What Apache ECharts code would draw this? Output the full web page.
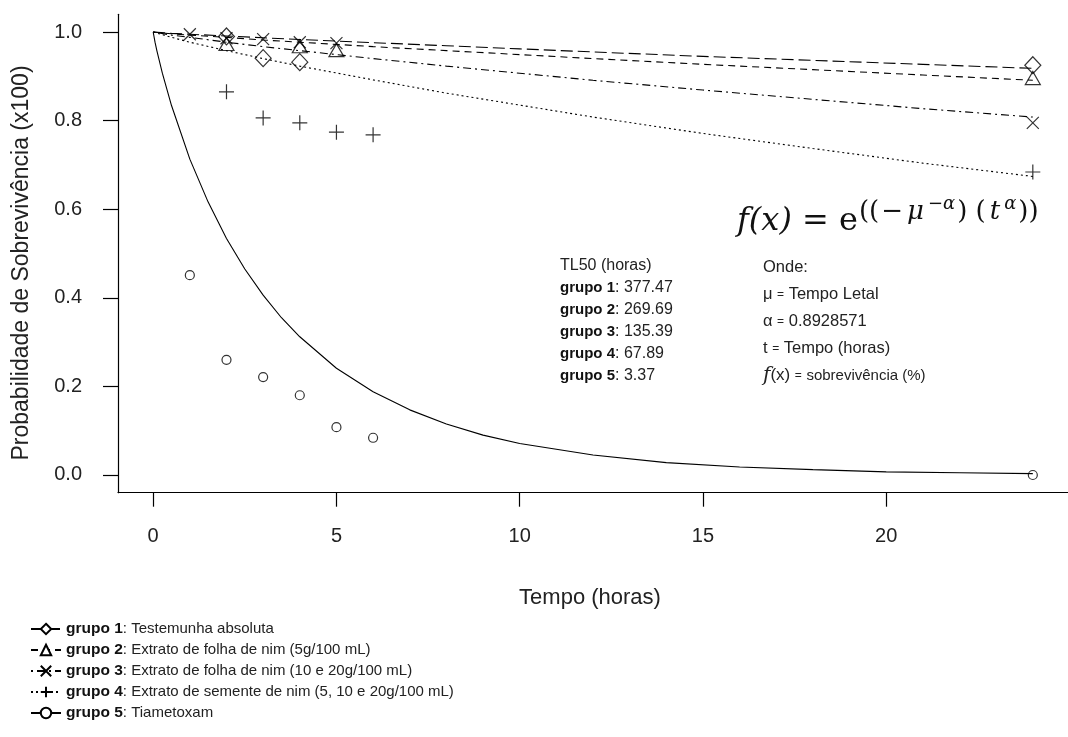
<!DOCTYPE html>
<html><head><meta charset="utf-8">
<script src="https://cdn.jsdelivr.net/npm/echarts@6/dist/echarts.min.js"></script>
<style>html,body{margin:0;padding:0;background:#fff}#c{width:1068px;height:737px}</style>
</head><body><div id="c"></div>
<script>
// ---- data ----
const groupNames = ['grupo 1', 'grupo 2', 'grupo 3', 'grupo 4', 'grupo 5'];
const groupDesc = ['Testemunha absoluta', 'Extrato de folha de nim (5g/100 mL)', 'Extrato de folha de nim (10 e 20g/100 mL)', 'Extrato de semente de nim (5, 10 e 20g/100 mL)', 'Tiametoxam'];
const tl50 = ['377.47', '269.69', '135.39', '67.89', '3.37'];
const xTicks = [0, 5, 10, 15, 20];
const yTicks = [0, 0.2, 0.4, 0.6, 0.8, 1.0];

// observed points
const obs1T = [2, 3, 4, 24];
const obs1V = [0.990, 0.941, 0.932, 0.925];
const obs2T = [2, 4, 5, 24];
const obs2V = [0.973, 0.968, 0.959, 0.896];
const obs3T = [1, 2, 3, 4, 5, 24];
const obs3V = [0.995, 0.986, 0.984, 0.977, 0.975, 0.795];
const obs4T = [2, 3, 4, 5, 6, 24];
const obs4V = [0.865, 0.806, 0.795, 0.774, 0.768, 0.684];
const obs5T = [1, 2, 3, 4, 5, 6, 24];
const obs5V = [0.451, 0.260, 0.221, 0.180, 0.108, 0.084, 0.0];

// fitted curves
const fitT = [0, 0.5, 1, 2, 3, 4, 6, 8, 10, 12, 15, 18, 21, 24];
const fit1 = [1, 0.997, 0.995, 0.991, 0.987, 0.983, 0.976, 0.969, 0.962, 0.955, 0.945, 0.936, 0.927, 0.918];
const fit2 = [1, 0.996, 0.993, 0.988, 0.982, 0.977, 0.967, 0.958, 0.949, 0.940, 0.927, 0.915, 0.903, 0.891];
const fit3 = [1, 0.993, 0.988, 0.977, 0.967, 0.958, 0.940, 0.923, 0.907, 0.891, 0.869, 0.848, 0.827, 0.808];
const fit4 = [1, 0.988, 0.977, 0.958, 0.940, 0.923, 0.892, 0.862, 0.835, 0.808, 0.771, 0.737, 0.704, 0.674];
const fit5T = [0, 0.05, 0.1, 0.25, 0.5, 1, 1.5, 2, 2.5, 3, 3.5, 4, 5, 6, 7, 8, 9, 10, 12, 14, 16, 18, 20, 22, 24];
const fit5 = [1, 0.977, 0.958, 0.907, 0.834, 0.713, 0.616, 0.534, 0.465, 0.406, 0.355, 0.312, 0.241, 0.188, 0.147, 0.115, 0.090, 0.071, 0.045, 0.028, 0.018, 0.012, 0.007, 0.005, 0.003];

// ---- chart ----
const zip = (a, b) => a.map((v, i) => [v, b[i]]);
const PLUS = 'path://M0,-10L0,10M-10,0L10,0';
const CROSS = 'path://M-10,-10L10,10M-10,10L10,-10';
const symbols = ['diamond', 'triangle', CROSS, PLUS, 'circle'];
const symSizes = [[16, 17], [15, 13], 12, 15, 9];
const dashes = [[12, 5], [7, 5], [2, 4, 8, 4], [2, 3], 'solid'];
const fits = [[fitT, fit1], [fitT, fit2], [fitT, fit3], [fitT, fit4], [fit5T, fit5]];
const obs = [[obs1T, obs1V], [obs2T, obs2V], [obs3T, obs3V], [obs4T, obs4V], [obs5T, obs5V]];

const series = [];
groupNames.forEach((g, i) => {
  series.push({
    type: 'line', name: g, data: zip(fits[i][0], fits[i][1]),
    symbol: symbols[i], symbolSize: 10, showSymbol: false, silent: true, z: 2,
    lineStyle: { color: '#000', width: 1.1, type: dashes[i] },
    itemStyle: { color: '#fff', borderColor: '#000', borderWidth: 1 }
  });
});
groupNames.forEach((g, i) => {
  series.push({
    type: 'scatter', name: g + ' obs', data: zip(obs[i][0], obs[i][1]),
    symbol: symbols[i], symbolSize: symSizes[i], silent: true, z: 3,
    itemStyle: { color: 'rgba(0,0,0,0)', borderColor: '#000', borderWidth: 1.2 }
  });
});

const FONT = 'Liberation Sans, Arial, sans-serif';
const SERIF = 'DejaVu Serif, Liberation Serif, serif';

const leftBlock = 'TL50 (horas)\n' + groupNames.map((g, i) => '{b|' + g + '}: ' + tl50[i]).join('\n');

const chart = echarts.init(document.getElementById('c'), null, { renderer: 'canvas' });
chart.setOption({
  animation: false,
  backgroundColor: '#fff',
  grid: { left: 118, top: 14.3, bottom: 244.3, right: -14, containLabel: false },
  xAxis: {
    type: 'value', min: -0.96, max: 24.96,
    axisLine: { show: true, onZero: false, lineStyle: { color: '#000', width: 1.2 } },
    axisTick: { show: true, length: 14, customValues: xTicks, lineStyle: { color: '#000', width: 1.2 } },
    axisLabel: { customValues: xTicks, margin: 34, fontSize: 20, color: '#222', fontFamily: FONT },
    splitLine: { show: false }
  },
  yAxis: {
    type: 'value', min: -0.04, max: 1.04,
    axisLine: { show: true, onZero: false, lineStyle: { color: '#000', width: 1.2 } },
    axisTick: { show: true, length: 15, customValues: yTicks, lineStyle: { color: '#000', width: 1.2 } },
    axisLabel: { customValues: yTicks, margin: 36, fontSize: 20, color: '#222', fontFamily: FONT,
      formatter: v => v.toFixed(1) },
    splitLine: { show: false }
  },
  legend: {
    data: groupNames, orient: 'vertical', left: 25, top: 616,
    itemWidth: 30, itemHeight: 13, itemGap: 5, selectedMode: false,
    formatter: name => '{b|' + name + '}: ' + groupDesc[groupNames.indexOf(name)],
    textStyle: { fontSize: 15, lineHeight: 14, color: '#222', fontFamily: FONT,
      rich: { b: { fontSize: 15.5, lineHeight: 14, fontWeight: 'bold', color: '#111', fontFamily: FONT } } }
  },
  graphic: [
    { type: 'text', x: 590, y: 598, silent: true,
      style: { text: 'Tempo (horas)', align: 'center', verticalAlign: 'middle', fill: '#222', font: '22px ' + FONT } },
    { type: 'text', x: 22, y: 263, rotation: Math.PI / 2, silent: true,
      style: { text: 'Probabilidade de Sobrevivência (x100)', align: 'center', verticalAlign: 'middle', fill: '#222', font: '23px ' + FONT } },
    { type: 'text', x: 560, y: 255, silent: true,
      style: { text: leftBlock, align: 'left', verticalAlign: 'top', fill: '#222', font: '16px ' + FONT, lineHeight: 22,
        rich: { b: { fontWeight: 'bold', fontSize: 15, fill: '#111', fontFamily: FONT, lineHeight: 22 } } } },
    { type: 'text', x: 763, y: 254, silent: true,
      style: {
        text: 'Onde:\nμ {e|=} Tempo Letal\nα {e|=} 0.8928571\nt {e|=} Tempo (horas)\n{fi|f}{fx|(x)} {e|=} {sm|sobrevivência (%)}',
        align: 'left', verticalAlign: 'top', fill: '#222', font: '16.5px ' + FONT, lineHeight: 27,
        rich: {
          e: { fontFamily: FONT, fontSize: 12, lineHeight: 27 },
          fi: { fontFamily: SERIF, fontStyle: 'italic', fontSize: 20, lineHeight: 27 },
          fx: { fontFamily: FONT, fontSize: 17, lineHeight: 27 },
          sm: { fontFamily: FONT, fontSize: 15, lineHeight: 27 }
        } } },
    { type: 'text', x: 737, y: 195, silent: true,
      style: {
        text: '{m|f(x)}{r| = e}{s|((}{s|−}{si|μ}{ss|−α}{s|) (}{si|t}{ss|α}{s|))}',
        align: 'left', verticalAlign: 'top', fill: '#111',
        rich: {
          m: { fontFamily: SERIF, fontStyle: 'italic', fontSize: 32, lineHeight: 54, verticalAlign: 'middle' },
          r: { fontFamily: SERIF, fontSize: 32, lineHeight: 54, verticalAlign: 'middle' },
          s: { fontFamily: SERIF, fontSize: 26, lineHeight: 26, padding: [4, 1, 0, 1], verticalAlign: 'top' },
          si: { fontFamily: SERIF, fontStyle: 'italic', fontSize: 26, lineHeight: 26, padding: [4, 1, 0, 3], verticalAlign: 'top' },
          ss: { fontFamily: SERIF, fontStyle: 'italic', fontSize: 18, lineHeight: 18, padding: [0, 1, 0, 3], verticalAlign: 'top' }
        } } }
  ],
  series: series
});
</script>
</body></html>
